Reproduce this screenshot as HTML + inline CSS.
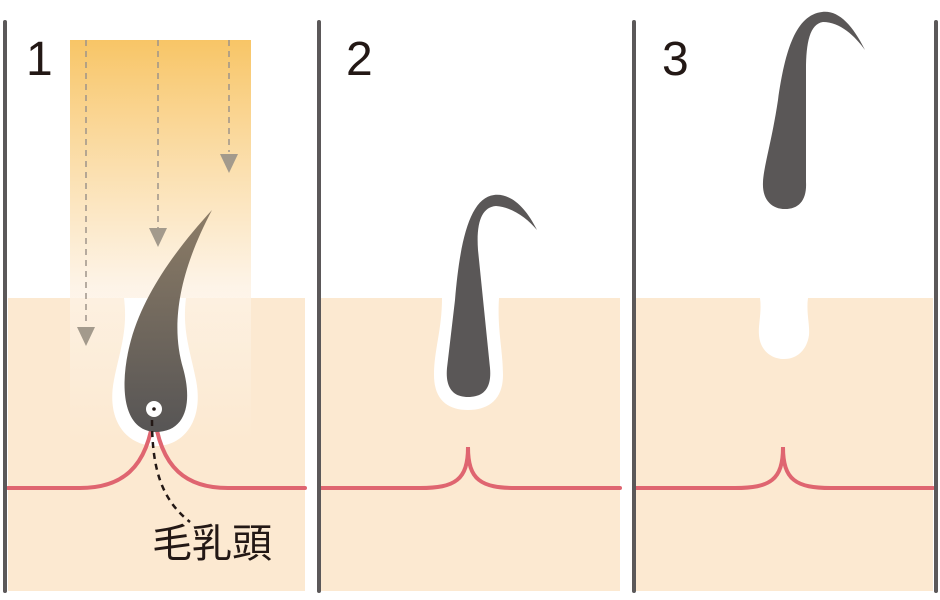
<!DOCTYPE html>
<html><head><meta charset="utf-8"><style>
html,body{margin:0;padding:0;background:#fff;width:940px;height:600px;overflow:hidden}
svg{display:block}
text{font-family:"Liberation Sans","Noto Sans CJK JP",sans-serif;fill:#231815}
</style></head><body>
<svg width="940" height="600" viewBox="0 0 940 600" xmlns="http://www.w3.org/2000/svg">
<defs>
<linearGradient id="light" gradientUnits="userSpaceOnUse" x1="0" y1="40" x2="0" y2="440">
<stop offset="0" stop-color="#f8c566"/>
<stop offset="0.62" stop-color="#fdf2e4" stop-opacity="0.85"/>
<stop offset="1" stop-color="#fdf2e4" stop-opacity="0"/>
</linearGradient>
<linearGradient id="hairg" gradientUnits="userSpaceOnUse" x1="0" y1="210" x2="0" y2="432">
<stop offset="0" stop-color="#8c7c66"/>
<stop offset="1" stop-color="#575555"/>
</linearGradient>
</defs>
<rect x="8" y="298" width="297" height="293" fill="#fce9d1"/>
<rect x="321" y="298" width="299" height="293" fill="#fce9d1"/>
<rect x="636" y="298" width="297" height="293" fill="#fce9d1"/>
<rect x="70" y="40" width="181" height="400" fill="url(#light)"/>
<path d="M124,298 L186,298 C182,330 190,350 196,380 C204,420 184,446 156,446 C126,446 106,420 114,380 C120,350 128,330 124,298 Z" fill="#fff"/>
<path d="M442,298 L499,298 C497,330 503,350 503,375 C503,400 488,410 468,410 C448,410 434,400 434,375 C434,350 442,330 442,298 Z" fill="#fff"/>
<path d="M760,298 L808,298 C806,312 810,325 809,335 C807,350 797,359 784,359 C771,359 760,350 759,335 C758,325 762,312 760,298 Z" fill="#fff"/>
<g fill="none" stroke="#df6570" stroke-width="4" stroke-linecap="round">
<path d="M8,488 L80,488 C120,488 148,470 154,412 C160,470 188,488 228,488 L305,488"/>
<path d="M321,488 L420,488 C455,488 468,480 468,447 C468,480 481,488 516,488 L620,488"/>
<path d="M636,488 L735,488 C770,488 783,480 783,447 C783,480 796,488 831,488 L933,488"/>
</g>
<path d="M212,210 C180,245 145,290 131,340 C120,380 120,430 155,432 C188,432 192,400 183,368 C172,330 175,280 212,210 Z" fill="url(#hairg)"/>
<circle cx="154" cy="409" r="8" fill="#fff"/>
<circle cx="154" cy="409" r="1.8" fill="#231815"/>
<path d="M152,420 C152,470 162,500 190,522" fill="none" stroke="#231815" stroke-width="2.5" stroke-dasharray="6,5"/>
<text x="152" y="557" font-size="40">毛乳頭</text>
<g stroke="#9e948a" stroke-width="1.5" stroke-dasharray="6,5" fill="none">
<line x1="86" y1="40" x2="86" y2="325"/>
<line x1="158" y1="40" x2="158" y2="228"/>
<line x1="229" y1="40" x2="229" y2="152"/>
</g>
<g fill="#a39a8c">
<polygon points="77,327 95,327 86,346"/>
<polygon points="149,228 167,228 158,247"/>
<polygon points="220,154 238,154 229,173"/>
</g>
<path d="M537,230 C525,206 510,193 494,195 C470,198 460,240 455,300 L447,368 C445,390 455,397 468,397 C482,397 492,390 490,368 L478,250 C476,222 482,207 496,206 C512,207 527,218 537,230 Z" fill="#5a5757"/>
<path d="M865,50 C852,24 838,10 822,12 C796,15 785,50 778,100 C772,140 764,165 763,182 C762,200 772,209 785,209 C799,209 807,200 806,182 L806,70 C806,42 810,24 823,22 C840,22 855,36 865,50 Z" fill="#5a5757"/>
<g stroke="#5b5859" stroke-width="4" stroke-linecap="round">
<line x1="5" y1="22" x2="5" y2="591"/>
<line x1="319" y1="22" x2="319" y2="591"/>
<line x1="634" y1="22" x2="634" y2="591"/>
<line x1="936" y1="22" x2="936" y2="591"/>
</g>
<text x="26" y="75" font-size="48">1</text>
<text x="346" y="75" font-size="48">2</text>
<text x="662" y="75" font-size="48">3</text>
</svg>
</body></html>
